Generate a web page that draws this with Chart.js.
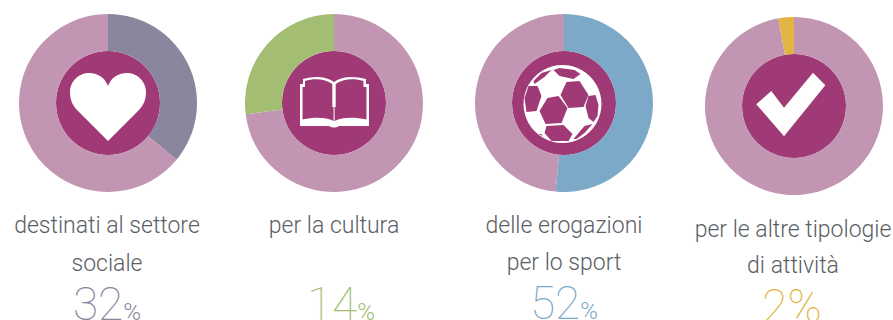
<!DOCTYPE html>
<html><head><meta charset="utf-8">
<style>
html,body{margin:0;padding:0;background:#fff;width:893px;height:320px;overflow:hidden}
canvas{position:absolute}
.t{position:absolute;text-align:center;font-family:Roboto,sans-serif;font-weight:300;font-size:23px;white-space:nowrap;color:#5a5e64;transform:translateX(-50%);line-height:28px}
.n{font-size:46px;font-weight:100;line-height:50px}
.n span{font-size:24px;font-weight:300}
</style>
<script src="https://cdn.jsdelivr.net/npm/chart.js@4"></script>
</head><body>
<canvas id="c0" width="178" height="178" style="left:19px;top:14px"></canvas>
<canvas id="c1" width="178" height="178" style="left:245px;top:14px"></canvas>
<canvas id="c2" width="178" height="178" style="left:475px;top:14px"></canvas>
<canvas id="c3" width="178" height="178" style="left:705px;top:17px"></canvas>
<div class="t" style="left:107px;top:212px">destinati al settore</div>
<div class="t" style="left:107px;top:250px">sociale</div>
<div class="t" style="left:334px;top:212px">per la cultura</div>
<div class="t" style="left:564px;top:212px">delle erogazioni</div>
<div class="t" style="left:564px;top:249px">per lo sport</div>
<div class="t" style="left:793px;top:216px">per le altre tipologie</div>
<div class="t" style="left:793px;top:252px">di attività</div>
<div class="t n" style="left:107px;top:279px;color:#8a869e">32<span>%</span></div>
<div class="t n" style="left:341px;top:279px;color:#a3bd72">14<span>%</span></div>
<div class="t n" style="left:564px;top:278px;color:#7da9c8">52<span>%</span></div>
<div class="t n" style="left:792px;top:281px;color:#e2b441">2%</div>
<script>
const sliceValues = [[36,64],[73,27],[51.5,48.5],[97.2,2.8]];
const ringColors = [['#8a869e','#c295b3'],['#c295b3','#a3bd72'],['#7da9c8','#c295b3'],['#c295b3','#e2b441']];
const discColor = '#a03a77';
const size = 178, discR = 52;
const iconOffsets = [[0,0],[0,0],[-1.5,1],[0,0]];
const icons = [
 [['M0,38 L-30,8 C-36,2 -38,-4 -38,-11 C-38,-22 -29,-30 -19,-30 C-10,-30 -3,-25 0,-17 C3,-25 10,-30 19,-30 C29,-30 38,-22 38,-11 C38,-4 36,2 30,8 Z','#fff']],
 [['M-34,-19 L-31,-19 L-31,-24 C-20,-27 -8,-27 0,-21 C8,-27 20,-27 32,-24 L32,-19 L35,-19 L35,23 L5,23 Q0,26 -5,23 L-34,23 Z','#fff'],
  ['M-31.5,-16 L-31.5,16.5 C-20,14 -8,14 -0.4,18 L-0.4,4 L-1.7,4 L-1.7,-19 C-8,-24 -20,-25 -29,-22 L-29,-16 Z','#a03a77'],
  ['M32.5,-16 L32.5,16.5 C20,14 8,14 0.6,18 L0.6,4 L1.7,4 L1.7,-19 C8,-24 20,-25 29.5,-22 L29.5,-16 Z','#a03a77']],
 [['M0,-39 A39,39 0 1 1 -0.01,-39 Z','#fff'],
  ['M-15,-6 L-4,-8 L5,4 L-1,19 L-17,20 L-23,7 Z','#a03a77'],
  ['M4,-22 L17,-23 L26,-9 L21,3 L6,4 L-2,-9 Z','#a03a77'],
  ['M-34,-18 L-25,-18 L-21,-8 L-26,7 L-36,8 L-38,-6 Z','#a03a77'],
  ['M-9,-34 L-3,-36 L12,-34 L18,-30 L11,-25 L-3,-28 Z','#a03a77'],
  ['M-29,-23 L-21,-31 L-11,-34 L-18,-27 L-28,-20 Z','#a03a77'],
  ['M26,-8 L33,-9 L36,1 L35,12 L31,18 L26,14 L23,2 Z','#a03a77'],
  ['M-16,22 L1,21 L10,30 L6,37 L-11,37 L-18,29 Z','#a03a77'],
  ['M11,35 L22,22 L30,20 L22,29 L14,35 Z','#a03a77'],
  ['M-24,30 L-21,30 L-20,32 Z','#a03a77']],
 [['M-37.7,-1.7 L-22.7,-15 L-10,1.7 L19,-33.3 L31.3,-20.7 L-10,30.3 Z','#fff']]
];
const iconPlugin = {id:'icon',afterDraw(chart,args,opts){
  const c=chart.ctx,a=chart.getDatasetMeta(0).data[0];
  c.save();c.translate(a.x+iconOffsets[opts.i][0],a.y+iconOffsets[opts.i][1]);
  for(const [d,f] of icons[opts.i]){ c.fillStyle=f;c.fill(new Path2D(d)); }
  c.restore();
}};
sliceValues.forEach((vals,i)=>{
  new Chart(document.getElementById('c'+i),{type:'doughnut',
    data:{datasets:[
      {data:vals,backgroundColor:ringColors[i],borderWidth:0,weight:size/2-discR},
      {data:[1],backgroundColor:[discColor],borderWidth:0,weight:discR}
    ]},
    options:{responsive:false,animation:false,cutout:0,
      plugins:{legend:{display:false},tooltip:{enabled:false},icon:{i}}},
    plugins:[iconPlugin]});
});
</script>
</body></html>
